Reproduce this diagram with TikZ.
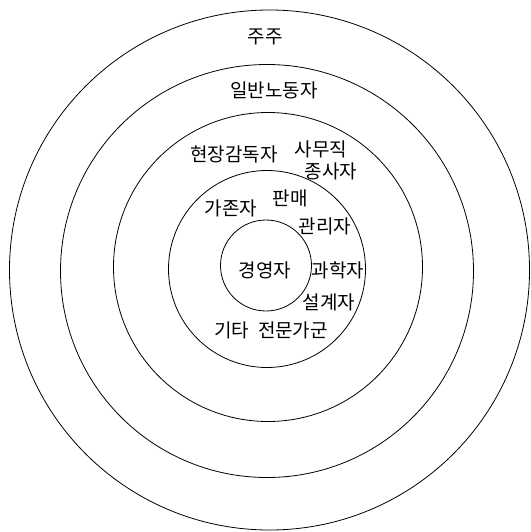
\documentclass[tikz,border=0pt]{standalone}
\usepackage{fontspec}
\newfontfamily\kr{Noto Sans CJK KR}
\begin{document}
\begin{tikzpicture}[x=1pt,y=-1pt,
  ring/.style={draw=black,line width=0.8pt},
  lbl/.style={font=\kr\fontsize{19}{22}\selectfont,inner sep=0pt,align=center}]
\useasboundingbox (0,0) rectangle (530,532);
\draw[ring] (269.5,270) circle (260);
\draw[ring] (267,271) circle (206.5);
\draw[ring] (268,267) circle (154.5);
\draw[ring] (267,269) circle (98.5);
\draw[ring] (266,265.5) circle (45.5);
\node[lbl] (juju) at (265,37) {주주};
\node[lbl] (worker) at (274,90) {일반노동자};
\node[lbl] (super) at (234,154) {현장감독자};
\node[lbl] (office) at (321,149) {사무직};
\node[lbl] (office2) at (331,171) {종사자};
\node[lbl] (tech) at (231,208) {가존자};
\node[lbl] (sales) at (290,198) {판매};
\node[lbl] (mgr) at (325,226) {관리자};
\node[lbl] (exec) at (265,270) {경영자};
\node[lbl] (sci) at (338,270) {과학자};
\node[lbl] (design) at (329,302) {설계자};
\node[lbl] (other) at (271,330) {기타\hspace{9pt}전문가군};
\end{tikzpicture}
\end{document}
